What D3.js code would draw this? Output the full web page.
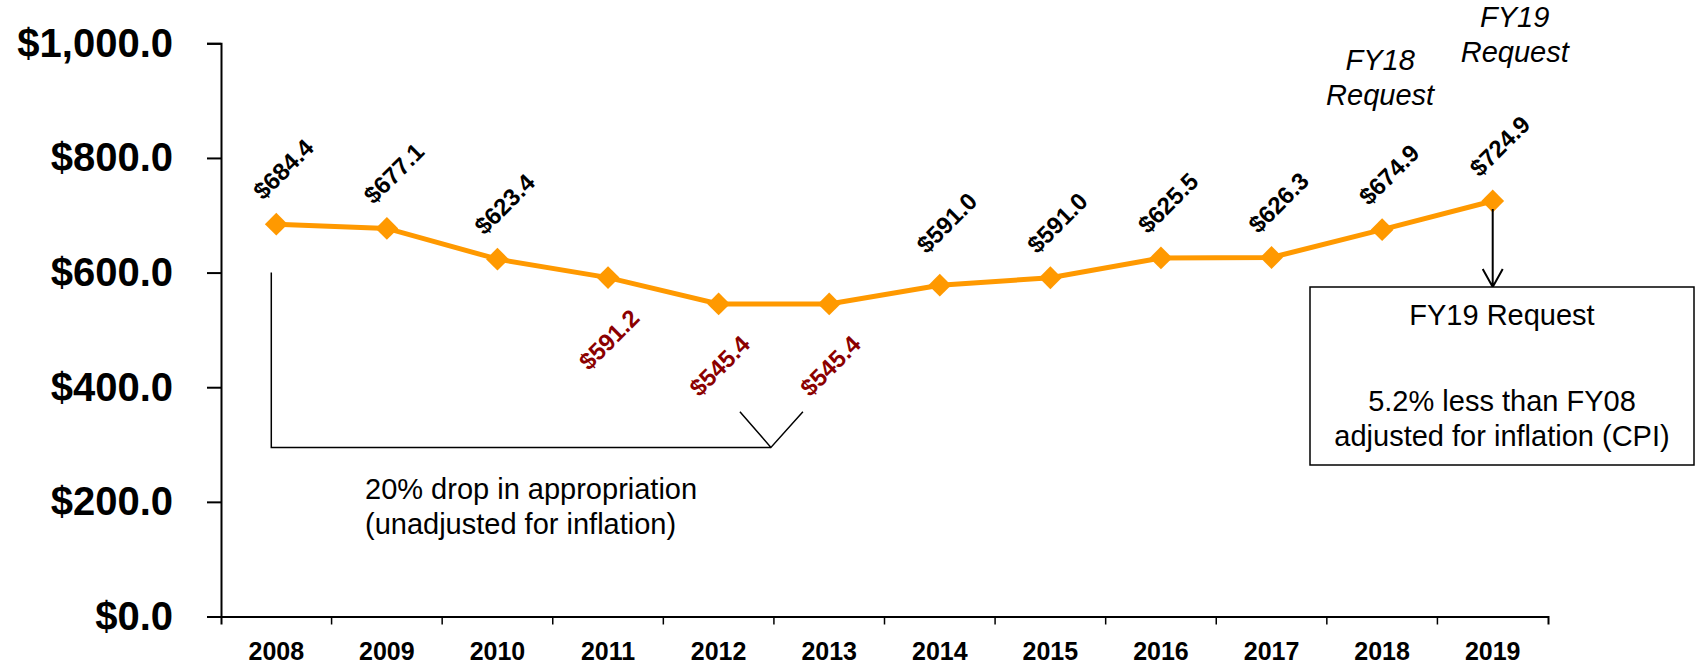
<!DOCTYPE html>
<html lang="en">
  <head>
    <meta charset="utf-8">
    <title>Appropriation FY08 - FY19</title>
    <script src="https://d3js.org/d3.v7.min.js"></script>
    <style>
      body { margin: 0; background: #fff; }
      svg text { font-family: "Liberation Sans", Arial, sans-serif; }
    </style>
  </head>
  <body>
    <div id="my_dataviz"></div>

  <script>
    // chart data
    var years = ["2008", "2009", "2010", "2011", "2012", "2013", "2014", "2015", "2016", "2017", "2018", "2019"];
    var values = [684.4, 677.1, 623.4, 591.2, 545.4, 545.4, 578.0, 591.0, 625.5, 626.3, 674.9, 724.9];
    // printed labels (2014 is printed as $591.0 in the source)
    var labelValues = [684.4, 677.1, 623.4, 591.2, 545.4, 545.4, 591.0, 591.0, 625.5, 626.3, 674.9, 724.9];
    var cutYears = ["2011", "2012", "2013"];
    var yTicks = [0, 200, 400, 600, 800, 1000];
    var requestYears = ["FY18", "FY19"];

    var w = 1696;
    var h = 667;
    var orange = "#ff9900";

    var x = d3.scaleBand()
      .domain(years)
      .range([221, 1548])
      .paddingInner(0)
      .paddingOuter(0);

    var y = d3.scaleLinear()
      .domain([0, 1000])
      .range([616.5, 43.3]);

    var cx = function(d) { return x(d) + x.bandwidth() / 2; };

    var svg = d3.select("#my_dataviz")
      .append("svg")
      .attr("width", w)
      .attr("height", h);

    // Y axis
    var yAxis = d3.axisLeft(y)
      .tickValues(yTicks)
      .tickSize(14)
      .tickPadding(34)
      .tickFormat(d3.format("$,.1f"));

    var gy = svg.append("g")
      .attr("transform", "translate(221,0)")
      .call(yAxis);
    gy.selectAll("path, line").attr("stroke", "#000").attr("stroke-width", 2);
    gy.selectAll("text")
      .attr("fill", "#000")
      .style("font-size", "40px")
      .style("font-weight", "bold");

    // X axis (labels centred, ticks on the band edges)
    var xAxis = d3.axisBottom(x)
      .tickSizeInner(0)
      .tickSizeOuter(8)
      .tickPadding(26);

    var gx = svg.append("g")
      .attr("transform", "translate(0," + y(0) + ")")
      .call(xAxis);
    gx.selectAll("path").attr("stroke", "#000").attr("stroke-width", 2);
    gx.selectAll("text")
      .attr("fill", "#000")
      .style("font-size", "25px")
      .style("font-weight", "bold");

    gx.selectAll(".edge")
      .data(years.slice(1))
      .enter()
      .append("line")
      .attr("class", "edge")
      .attr("x1", d => x(d))
      .attr("x2", d => x(d))
      .attr("y1", 0)
      .attr("y2", 8)
      .attr("stroke", "#000")
      .attr("stroke-width", 1.5);

    // bracket: 20% drop
    var bx = cx("2008") - 5;
    var bEnd = x("2012") + x.bandwidth() - 3;
    svg.append("path")
      .attr("d", "M" + bx + "," + y(600) + "V" + y(295) + "H" + bEnd
        + "M" + (bEnd - 31) + "," + y(357) + "L" + bEnd + "," + y(295)
        + "L" + (bEnd + 32) + "," + y(357))
      .attr("fill", "none")
      .attr("stroke", "#000")
      .attr("stroke-width", 1.5);

    svg.append("text")
      .attr("x", 365)
      .attr("y", 499)
      .style("font-size", "29px")
      .text("20% drop in appropriation");
    svg.append("text")
      .attr("x", 365)
      .attr("y", 534)
      .style("font-size", "29px")
      .text("(unadjusted for inflation)");

    // line and diamond markers
    var line = d3.line()
      .x((d, i) => cx(years[i]))
      .y(d => y(d));

    svg.append("path")
      .datum(values)
      .attr("d", line)
      .attr("fill", "none")
      .attr("stroke", orange)
      .attr("stroke-width", 5);

    svg.selectAll(".dot")
      .data(values)
      .enter()
      .append("path")
      .attr("class", "dot")
      .attr("d", d3.symbol().type(d3.symbolSquare).size(260))
      .attr("transform", (d, i) => "translate(" + cx(years[i]) + "," + y(d) + ") rotate(45)")
      .attr("fill", orange);

    // value labels
    svg.selectAll(".vlabel")
      .data(labelValues)
      .enter()
      .append("text")
      .attr("class", "vlabel")
      .attr("transform", function(d, i) {
        var below = cutYears.includes(years[i]);
        var lx = cx(years[i]) + (below ? 1 : 7);
        var ly = y(d) + (below ? 62 : -55);
        return "translate(" + lx + "," + ly + ") rotate(-45)";
      })
      .attr("text-anchor", "middle")
      .attr("dy", "0.35em")
      .attr("fill", (d, i) => cutYears.includes(years[i]) ? "#8b0000" : "#000")
      .style("font-size", "24px")
      .style("font-weight", "bold")
      .text(d => d3.format("$.1f")(d));

    // FY18 / FY19 request labels
    var reqPos = [[cx("2018") - 2, 70], [cx("2019") + 22, 27]];
    requestYears.forEach(function(r, i) {
      var t = svg.append("text")
        .attr("text-anchor", "middle")
        .style("font-size", "29px")
        .style("font-style", "italic");
      t.append("tspan").attr("x", reqPos[i][0]).attr("y", reqPos[i][1]).text(r);
      t.append("tspan").attr("x", reqPos[i][0]).attr("y", reqPos[i][1] + 35).text("Request");
    });

    // arrow from FY19 point to the note box
    var ax = cx("2019");
    var boxTop = 287;
    svg.append("path")
      .attr("d", "M" + ax + "," + (y(724.9) + 8) + "V" + boxTop
        + "M" + (ax - 10) + "," + (boxTop - 18) + "L" + ax + "," + boxTop
        + "L" + (ax + 10) + "," + (boxTop - 18))
      .attr("fill", "none")
      .attr("stroke", "#000")
      .attr("stroke-width", 2);

    // note box
    var boxX = 1310, boxW = 384, boxH = 178;
    svg.append("rect")
      .attr("x", boxX)
      .attr("y", boxTop)
      .attr("width", boxW)
      .attr("height", boxH)
      .attr("fill", "#fff")
      .attr("stroke", "#000")
      .attr("stroke-width", 1.5);

    var noteLines = [["FY19 Request", 325], ["5.2% less than FY08", 411], ["adjusted for inflation (CPI)", 446]];
    noteLines.forEach(function(n) {
      svg.append("text")
        .attr("x", boxX + boxW / 2)
        .attr("y", n[1])
        .attr("text-anchor", "middle")
        .style("font-size", "29px")
        .text(n[0]);
    });
  </script>
  </body>
</html>
